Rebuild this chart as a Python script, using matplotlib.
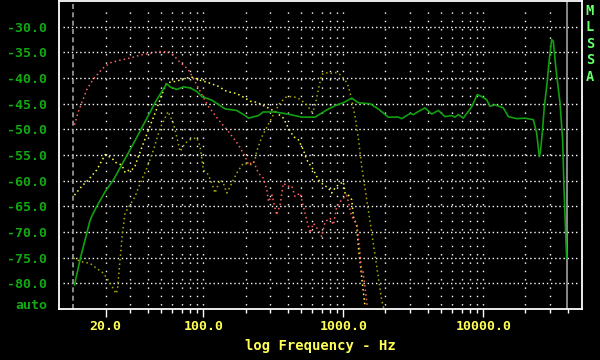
import matplotlib
matplotlib.use('Agg')
import matplotlib.pyplot as plt
import matplotlib.transforms as mtransforms

# Response curves (frequency in Hz, level in dB)
green_freq = [12.0, 13.3, 14.7, 15.4, 15.9, 17.3, 19.9, 22.8, 26.1, 29.9, 36.3, 46.4, 54.8, 57.8, 64.5,
              72, 80.4, 89.7, 97.5, 115, 143, 173, 199, 210, 247, 268, 325, 383, 416, 505, 628, 761,
              897, 1000, 1148, 1280, 1550, 1778, 2091, 2473, 2612, 2993, 3162, 3434, 3834, 4279, 4773,
              5326, 5941, 6278, 6627, 7194, 8259, 9057, 9743, 10570, 11160, 12130, 13900, 15100, 17330,
              19870, 22760, 24050, 25120, 25600, 26380, 27290, 28370, 29590, 30800, 31620, 33060, 35300,
              36870, 37670, 38950, 39410]
green_db = [-80.3, -74.8, -70.2, -68.0, -67.0, -65.0, -62.1, -59.8, -56.9, -54.0, -49.7, -44.2, -41.1, -41.7,
            -42.2, -41.7, -41.9, -42.6, -43.6, -44.3, -46.0, -46.3, -47.3, -47.8, -47.3, -46.6, -46.6, -46.9,
            -47.1, -47.6, -47.6, -46.2, -45.2, -44.8, -43.9, -44.8, -45.0, -46.0, -47.6, -47.6, -47.9, -46.9,
            -47.1, -46.5, -45.8, -47.0, -46.3, -47.5, -47.3, -47.6, -47.1, -47.8, -45.6, -43.2, -43.6, -44.2,
            -45.5, -45.2, -45.8, -47.5, -47.9, -47.8, -48.1, -50.7, -55.3, -54.3, -50.7, -45.5, -41.6, -36.4,
            -32.5, -32.8, -38.3, -44.8, -52.0, -61.1, -71.9, -75.1]

red_freq = [12.0, 12.8, 13.8, 14.7, 16.0, 17.8, 19.3, 21.6, 25.4, 29.9, 35.3, 41.6, 47.7, 57.8, 62,
            68, 78, 87, 97.5, 108.6, 128, 151, 178, 199, 210, 228, 247, 268, 284, 292, 309, 334, 353,
            373, 400, 428, 452, 490, 532, 578, 611, 663, 701, 740, 803, 849, 897, 975, 1057, 1148, 1247,
            1316, 1350, 1380, 1429, 1483]
red_db = [-49.1, -46.5, -44.2, -42.2, -40.6, -39.0, -38.0, -37.0, -36.5, -36.1, -35.5, -35.2, -34.8, -34.9,
          -35.7, -36.9, -38.3, -40.6, -43.2, -45.5, -48.1, -50.4, -53.0, -55.3, -56.9, -56.2, -58.5, -59.5,
          -61.8, -64.1, -62.8, -66.7, -64.7, -60.5, -61.1, -61.0, -63.1, -62.4, -66.3, -70.2, -68.3, -69.6,
          -70.9, -68.0, -67.3, -68.6, -65.0, -63.7, -62.8, -67.0, -68.3, -74.1, -78.0, -77.7, -80.7, -84.6]

yellow_freq = [12.0, 13.5, 15.1, 17.3, 19.9, 22.2, 24.0, 26.1, 27.6, 29.1, 30.8, 32.5, 34.3, 37.3, 40.5,
               45.2, 50.5, 54.8, 64.5, 74, 85, 92, 109, 128, 147, 173, 199, 216, 240, 276, 325, 373, 394,
               440, 477, 518, 547, 611, 663, 720, 782, 826, 873, 921, 1000, 1028, 1086, 1148, 1179, 1247,
               1280, 1320, 1377, 1429]
yellow_db = [-62.8, -61.1, -59.8, -57.9, -54.9, -55.6, -56.6, -56.9, -58.4, -58.0, -57.9, -57.1, -55.3, -52.7,
             -50.1, -46.8, -43.2, -40.9, -40.6, -40.0, -39.8, -40.3, -40.9, -41.6, -42.6, -43.0, -43.9, -44.5,
             -44.7, -45.5, -46.5, -47.8, -49.1, -51.4, -52.0, -54.0, -55.9, -57.9, -59.8, -60.8, -61.4, -62.4,
             -61.4, -60.8, -60.2, -62.4, -62.8, -63.7, -67.0, -68.9, -72.9, -76.1, -80.7, -84.6]

olive_freq = [11.8, 13.5, 15.5, 17.3, 19.3, 21.6, 23.8, 24.3, 25.4, 26.4, 27.6, 29.9, 32.5, 34.3, 36.3,
              39.5, 44, 49.1, 53.2, 55.9, 61, 64.5, 68.2, 74, 80.4, 89.7, 94.7, 100, 108.6, 118, 121, 131.5,
              139, 147, 159.5, 173, 193, 222, 234, 240, 261, 291, 325, 353, 394, 440, 490, 547, 601, 628,
              663, 701, 740, 803, 873, 946, 1028, 1086, 1148, 1213, 1280, 1352, 1469, 1596, 1733, 1881, 1950]
olive_db = [-75.1, -75.8, -76.1, -77.1, -78.0, -80.0, -82.0, -81.3, -75.4, -70.2, -66.3, -64.7, -63.1, -61.4,
            -59.8, -57.5, -54.0, -49.7, -47.8, -46.5, -48.8, -51.4, -54.3, -52.7, -52.0, -51.6, -53.3, -57.9,
            -58.8, -61.4, -62.4, -59.8, -60.5, -62.4, -60.5, -58.5, -56.6, -56.9, -55.9, -54.3, -51.5, -49.0,
            -46.5, -44.8, -43.6, -43.6, -44.1, -45.2, -46.7, -45.5, -42.2, -39.3, -38.9, -39.1, -38.9, -39.3,
            -40.3, -41.6, -44.2, -47.5, -51.7, -57.2, -63.7, -70.2, -76.8, -83.3, -85.0]

# Axis ticks / labels
y_ticks = [-30, -35, -40, -45, -50, -55, -60, -65, -70, -75, -80]
x_major = [20, 100, 1000, 10000]
x_major_labels = ['20.0', '100.0', '1000.0', '10000.0']
x_minor = [30, 40, 50, 60, 70, 80, 90, 200, 300, 400, 500, 600, 700, 800, 900,
           2000, 3000, 4000, 5000, 6000, 7000, 8000, 9000, 20000, 30000, 40000]
marker_lo = 11.8     # dashed gray marker
marker_hi = 39800    # solid gray marker

GREEN = '#12a812'
YELLOW = '#ffff55'
MONO = 'DejaVu Sans Mono'
FS = 9.5


def plot_mlssa():
    fig = plt.figure(figsize=(6, 3.6), dpi=100, facecolor='black')
    ax = fig.add_axes([0.098, 0.1417, 0.872, 0.855], facecolor='black')
    ax.set_xscale('log')
    ax.set_xlim(9.27, 50700)
    ax.set_ylim(-85, -25)

    # grid, drawn first so the curves sit on top
    for yv in y_ticks:
        ax.axhline(yv, xmin=0.008, xmax=0.99, color='white', lw=1.0, ls=(0, (1, 2)), zorder=1)
    for xv in x_major + x_minor[:-1]:
        ax.axvline(xv, ymin=0.013, ymax=0.98, color='white', lw=1.0, ls=(0, (1, 5)), zorder=1)

    ax.axvline(marker_lo, color='#a0a0a0', lw=1.2, ls=(0, (3, 2)), zorder=2)
    ax.axvline(marker_hi, color='#a0a0a0', lw=1.2, zorder=2)

    dots = (0, (1, 2))
    ax.plot(olive_freq, olive_db, color='#a8a800', lw=1.1, ls=dots, zorder=3)
    ax.plot(yellow_freq, yellow_db, color='#ffff40', lw=1.1, ls=dots, zorder=4)
    ax.plot(red_freq, red_db, color='#ff6060', lw=1.1, ls=dots, zorder=5)
    ax.plot(green_freq, green_db, color='#10a010', lw=1.2, zorder=6)

    for side in ax.spines.values():
        side.set_color('white')
        side.set_linewidth(1.3)

    ax.set_yticks(y_ticks)
    ax.set_yticklabels([f'{v:.1f}' for v in y_ticks], color=GREEN, family=MONO,
                       fontweight='bold', fontsize=FS)
    ax.tick_params(axis='y', length=0, pad=8.5)

    ax.set_xticks(x_major)
    ax.set_xticklabels(x_major_labels, color=YELLOW, family=MONO, fontweight='bold', fontsize=FS)
    ax.set_xticks(x_minor, minor=True)
    ax.xaxis.set_minor_formatter(matplotlib.ticker.NullFormatter())
    ax.tick_params(axis='x', which='major', length=5.5, width=1.0, color='white', pad=2.5)
    ax.tick_params(axis='x', which='minor', length=3, width=1.0, color='white')

    ax.set_xlabel('log Frequency - Hz', color=YELLOW, family=MONO, fontweight='bold',
                  fontsize=FS + 0.5, labelpad=4)

    # "auto" sits where a tick label would go, at the bottom of the axis
    trans = mtransforms.blended_transform_factory(fig.transFigure, ax.transData)
    ax.text(47 / 600, -84.3, 'auto', transform=trans, ha='right', va='center',
            color=GREEN, family=MONO, fontweight='bold', fontsize=FS)

    # vertical program name on the right
    for i, ch in enumerate('MLSSA'):
        fig.text(590 / 600, 1 - (11 + 16.4 * i) / 360, ch, ha='center', va='center',
                 color='#66ff66', family=MONO, fontweight='bold', fontsize=9.8)

    fig.savefig('out.png', dpi=100, facecolor='black')


if __name__ == '__main__':
    plot_mlssa()
